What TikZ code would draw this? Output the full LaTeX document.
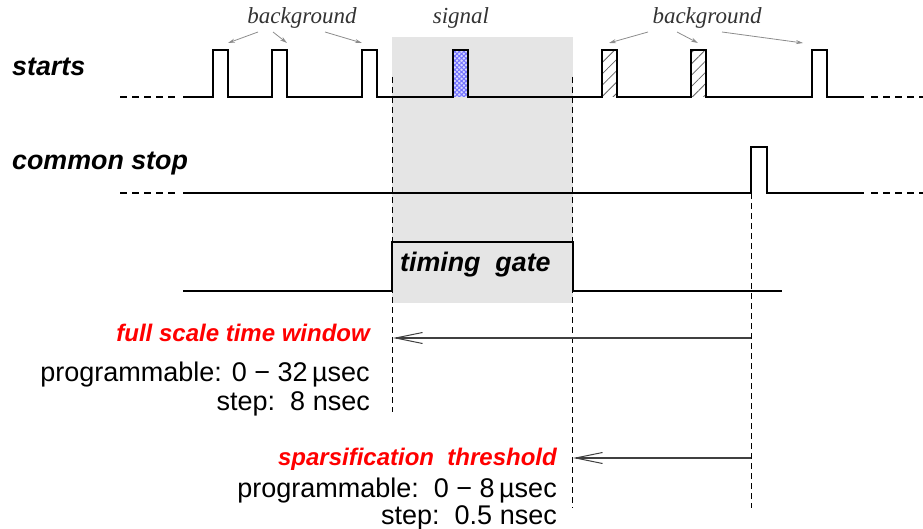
\documentclass[tikz,border=0pt]{standalone}
\usepackage{fontspec}
\setmainfont{Liberation Sans}
\newfontfamily\seriffam{Liberation Serif}
\usetikzlibrary{arrows.meta,patterns.meta}
\begin{document}
\begin{tikzpicture}[x=1pt,y=-1pt,
  sig/.style={line width=1.8pt,line join=miter},
  sigdash/.style={line width=1.8pt,dash pattern=on 7pt off 5pt},
  vdash/.style={line width=0.9pt,dash pattern=on 6pt off 4pt},
  lbl/.style={font=\fontsize{26.8}{30}\selectfont\bfseries\itshape,inner sep=0pt,anchor=west},
  redlbl/.style={font=\fontsize{24}{28}\selectfont\bfseries\itshape,text=red,inner sep=0pt,anchor=east},
  plain/.style={font=\fontsize{27}{30}\selectfont,inner sep=0pt,anchor=east},
  note/.style={font=\fontsize{23}{26}\selectfont\seriffam\itshape,text=black!80,inner sep=0pt},
  pointer/.style={draw=black!45,line width=0.8pt,-{Stealth[length=7pt,width=4pt]}},
  window/.style={draw=black!75,line width=1.1pt,-{Straight Barb[length=27pt,width=11pt,line width=1pt]}},
  hatched/.style={pattern={Lines[angle=45,distance=8pt,line width=0.8pt]},pattern color=black!60},
  crossed/.style={pattern={Hatch[angle=45,distance=3.2pt,line width=1pt]},pattern color=blue!55}
]
\useasboundingbox (0,0) rectangle (923,529);
% gate window
\fill[black!10] (392,37) rectangle (573,303);
% named coordinates
\coordinate (gL) at (392,77);
\coordinate (gLb) at (392,412);
\coordinate (gR) at (572,77);
\coordinate (gRb) at (572,508);
\coordinate (sT) at (751,193);
\coordinate (sTb) at (751,508);
\draw[vdash] (gL) -- (gLb);
\draw[vdash] (gR) -- (gRb);
\draw[vdash] (sT) -- (sTb);
% pulse fills
\fill[white] (453,50) rectangle (468,97);
\fill[blue!15] (453,50) rectangle (468,97);
\fill[crossed] (453,50) rectangle (468,97);
\fill[hatched] (602,50) rectangle (617,97);
\fill[hatched] (691,50) rectangle (706,97);
% starts line
\draw[sigdash] (120,97) -- (178,97);
\draw[sig] (183,97) -- (213,97) -- (213,50) -- (228,50) -- (228,97)
  -- (272,97) -- (272,50) -- (287,50) -- (287,97)
  -- (362,97) -- (362,50) -- (377,50) -- (377,97)
  -- (453,97) -- (453,50) -- (468,50) -- (468,97)
  -- (602,97) -- (602,50) -- (617,50) -- (617,97)
  -- (691,97) -- (691,50) -- (706,50) -- (706,97)
  -- (812,97) -- (812,50) -- (827,50) -- (827,97) -- (864,97);
\draw[sigdash] (871,97) -- (923,97);
% common stop line
\draw[sigdash] (120,193) -- (178,193);
\draw[sig] (183,193) -- (751,193) -- (751,147) -- (767,147) -- (767,193) -- (864,193);
\draw[sigdash] (871,193) -- (923,193);
% timing gate
\draw[sig] (183,291) -- (392,291) -- (392,242) -- (573,242) -- (573,291) -- (782,291);
% labels
\node[lbl] (starts) at (12,67) {starts};
\node[lbl] (stop) at (12,164) {common stop};
\node[lbl] (gate) at (400,265) {timing\ \ gate};
% annotations
\node[note] (bg1) at (302,18) {background};
\node[note] (sg) at (461,18) {signal};
\node[note] (bg2) at (707,18) {background};
\coordinate (p1) at (228,43);
\coordinate (p2) at (287,43);
\coordinate (p3) at (362,43);
\coordinate (p4) at (609,43);
\coordinate (p5) at (698,43);
\coordinate (p6) at (803,43);
\draw[pointer] (258,32) -- (p1);
\draw[pointer] (273,32) -- (p2);
\draw[pointer] (325,32) -- (p3);
\draw[pointer] (648,32) -- (p4);
\draw[pointer] (677,32) -- (p5);
\draw[pointer] (722,32) -- (p6);
% windows
\coordinate (fsA) at (751,338);
\coordinate (fsB) at (393,338);
\coordinate (spA) at (751,458);
\coordinate (spB) at (573,458);
\draw[window] (fsA) -- (fsB);
\draw[window] (spA) -- (spB);
\node[redlbl] (fs) at (370,333) {full scale time window};
\node[plain] (fs1) at (370,375) {programmable: 0 − 32\,µsec};
\node[plain] (fs2) at (370,404) {step:\ \ 8 nsec};
\node[redlbl] (sp) at (557,459) {sparsification\ \ threshold};
\node[plain] (sp1) at (557,491) {programmable:\ \ 0 − 8\,µsec};
\node[plain] (sp2) at (557,518) {step:\ \ 0.5 nsec};
\end{tikzpicture}
\end{document}
